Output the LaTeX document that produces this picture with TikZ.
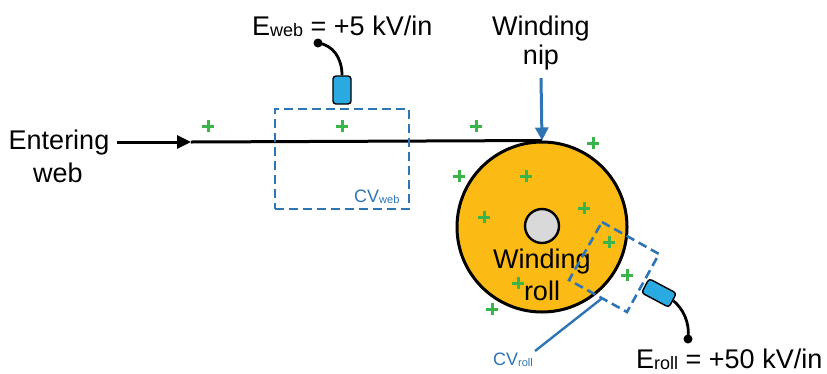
\documentclass[tikz,border=0pt]{standalone}
\usepackage{fontspec}
\setmainfont{Liberation Sans}
\usetikzlibrary{arrows.meta,calc}
\definecolor{cvblue}{RGB}{46,117,182}
\definecolor{sensblue}{RGB}{41,171,226}
\definecolor{plusgreen}{RGB}{57,181,74}
\definecolor{rollorange}{RGB}{252,187,20}
\definecolor{coregrey}{RGB}{217,217,217}
\newcommand{\subtxt}[1]{\raisebox{-1pt}{\fontsize{18}{18}\selectfont #1}}
\newcommand{\subsmall}[1]{\raisebox{-1pt}{\fontsize{11}{11}\selectfont #1}}
\tikzset{
  bigtext/.style={font=\fontsize{27}{32}\selectfont, inner sep=0pt, anchor=base},
  cvlabel/.style={font=\fontsize{18}{18}\selectfont, text=cvblue, inner sep=0pt, anchor=base west},
  cvdash/.style={draw=cvblue, line width=2.6pt, dash pattern=on 9pt off 5pt},
  sensor/.style={draw=black, fill=sensblue, rounded corners=3pt, line width=1.4pt, inner sep=0pt},
  cable/.style={draw=black, line width=2.8pt},
  dot/.style={circle, fill=black, inner sep=0pt, minimum size=9pt},
  plussign/.pic={\draw[plusgreen, line width=3pt] (-6,0) -- (6,0) (0,-6) -- (0,6);}
}
\begin{document}
\begin{tikzpicture}[x=1pt,y=-1pt]
\useasboundingbox (0,0) rectangle (827,373);

% winding roll
\node[circle, draw=black, line width=3pt, fill=rollorange, minimum size=170pt, inner sep=0pt] (roll) at (542,227) {};
\node[circle, draw=black, line width=2.4pt, fill=coregrey, minimum size=34pt, inner sep=0pt] (core) at (542,226) {};
\node[bigtext] (roll1) at (542,268) {Winding};
\node[bigtext] (roll2) at (542,300) {roll};

% entering web
\node[bigtext] (enter1) at (59,149) {Entering};
\node[bigtext] (enter2) at (58,182) {web};
\coordinate (webstart) at (117,142);
\coordinate (webarrow) at (191,142);
\draw[line width=3pt, -{Triangle[length=14pt,width=13pt]}] (webstart) -- (webarrow);
\draw[line width=3pt] (webarrow) -- (roll.north);

% winding nip
\node[bigtext] (nip1) at (541,35) {Winding};
\node[bigtext] (nip2) at (541,64) {nip};
\coordinate (niptop) at (541,78);
\draw[cvblue, line width=3pt, -{Triangle[length=13pt,width=13pt]}] (niptop) -- (roll.north);

% CV web
\node[cvdash, minimum width=134pt, minimum height=100pt, inner sep=0pt] (cvweb) at (342,159) {};
\node[cvlabel] (cvwebl) at (354,202) {CV\subsmall{web}};

% web sensor
\node[sensor, minimum width=18pt, minimum height=28pt] (wsens) at (342,90) {};
\node[dot] (wdot) at (318,43) {};
\draw[cable] (wsens.north) .. controls (342,58) and (333,45) .. (wdot.center);
\node[bigtext, anchor=base west] (eweb) at (252,35) {E\subtxt{web} = +5 kV/in};

% CV roll
\coordinate (ca) at (602,222);
\coordinate (cb) at (659,254);
\coordinate (cc) at (627,312);
\coordinate (cd) at (569,280);
\draw[cvdash] (ca) -- (cb) -- (cc) -- (cd) -- cycle;
\coordinate (leadstart) at ($(cd)!0.57!(cc)$);
\coordinate (leadend) at (535,351);
\draw[cvblue, line width=2.4pt] (leadstart) -- (leadend);
\node[cvlabel] (cvrolll) at (493,365) {CV\subsmall{roll}};

% roll sensor
\node[sensor, minimum width=31pt, minimum height=16pt, rotate=-28] (rsens) at (659,293) {};
\node[dot] (rdot) at (688,339) {};
\draw[cable] (rsens.east) .. controls (683,309) and (690,322) .. (rdot.center);
\node[bigtext, anchor=base west] (eroll) at (636,368) {E\subtxt{roll} = +50 kV/in};

% charges
\foreach \p in {(208,126),(342,126),(476,126),(593,143),(459,176),(526,176),(484,217),(584,208),(609,242),(627,275),(518,283),(492,309)}
  \pic at \p {plussign};
\end{tikzpicture}
\end{document}
